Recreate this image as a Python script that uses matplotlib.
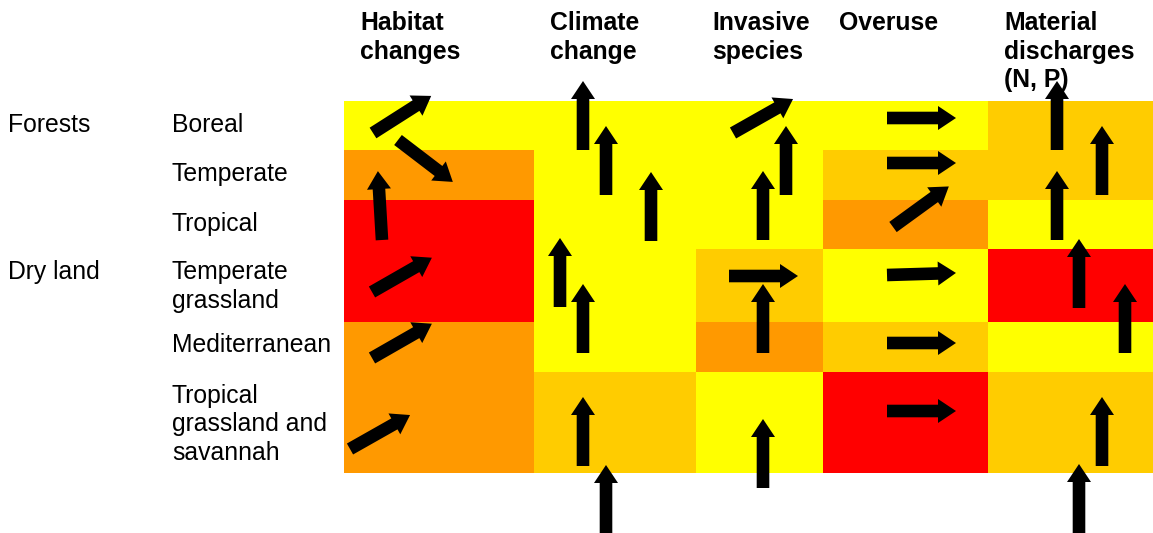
import numpy as np
import matplotlib
matplotlib.use("Agg")
import matplotlib.pyplot as plt
from matplotlib.colors import ListedColormap
from matplotlib.patches import FancyArrow

# Column headers (pressures) and row labels (ecosystems)
pressures = ["Habitat\nchanges", "Climate\nchange", "Invasive\nspecies",
             "Overuse", "Material\ndischarges\n(N, P)"]
groups = ["Forests", "", "", "Dry land", "", ""]
ecosystems = ["Boreal", "Temperate", "Tropical", "Temperate\ngrassland",
              "Mediterranean", "Tropical\ngrassland and\nsavannah"]

# impact level per cell: 0 low (yellow) .. 3 very high (red)
impact = np.array([
    [0, 0, 0, 0, 1],
    [2, 0, 0, 1, 1],
    [3, 0, 0, 2, 0],
    [3, 0, 1, 0, 3],
    [2, 0, 2, 1, 0],
    [2, 1, 0, 3, 1],
])
impact_colors = ["#FFFF00", "#FFCC00", "#FF9900", "#FF0000"]

# trend arrows: tail position (pixels of the figure) and direction in degrees
arrow_x = [373, 398, 382, 372, 372, 350,
           583, 606, 651, 560, 583, 583, 606,
           733, 786, 763, 729, 763, 763,
           887, 887, 893, 887, 887, 887,
           1057, 1102, 1057, 1079, 1125, 1102, 1079]
arrow_y = [133, 140, 240, 292, 358, 449,
           150, 195, 241, 307, 353, 466, 534,
           133, 195, 240, 276, 353, 488,
           118, 163, 227, 275, 343, 411,
           150, 195, 240, 308, 353, 466, 533]
arrow_angle = [32.5, -37.4, 93.4, 29.8, 29.8, 29.5,
               90, 90, 90, 90, 90, 90, 90,
               29.5, 90, 90, 0, 90, 90,
               0, 0, 36, 1.7, 0, 0,
               90, 90, 90, 90, 90, 90, 90]

# layout of the table (pixels)
col_edges = [344, 534, 696, 823, 988, 1153]
row_edges = [101, 150, 200, 249, 322, 372, 473]

W, H = 1153, 533
fig = plt.figure(figsize=(W / 100, H / 100), dpi=100)
ax = fig.add_axes([0, 0, 1, 1])
ax.set_xlim(0, W)
ax.set_ylim(H, 0)
ax.axis("off")

ax.pcolormesh(col_edges, row_edges, impact, cmap=ListedColormap(impact_colors),
              vmin=-0.5, vmax=3.5, shading="flat", antialiased=False,
              linewidth=0)

font = dict(family="Liberation Sans", fontsize=17.8, color="black")
line_h = 28.5

# headers
for i, txt in enumerate(pressures):
    for k, line in enumerate(txt.split("\n")):
        ax.text(col_edges[i] + 16, 29.5 + k * 29, line, fontweight="bold",
                va="baseline", ha="left", **font)

# row labels
for r, (g, e) in enumerate(zip(groups, ecosystems)):
    base = row_edges[r] + 30.5
    if g:
        ax.text(8, base, g, va="baseline", ha="left", **font)
    for k, line in enumerate(e.split("\n")):
        ax.text(172, base + k * line_h, line, va="baseline", ha="left", **font)

# arrows
L = 69
for x, y, a in zip(arrow_x, arrow_y, arrow_angle):
    t = np.deg2rad(a)
    ax.add_patch(FancyArrow(x, y, L * np.cos(t), -L * np.sin(t), width=12.6,
                            head_width=24, head_length=18,
                            length_includes_head=True, color="black",
                            linewidth=0, zorder=5))

fig.savefig("out.png", dpi=100)
